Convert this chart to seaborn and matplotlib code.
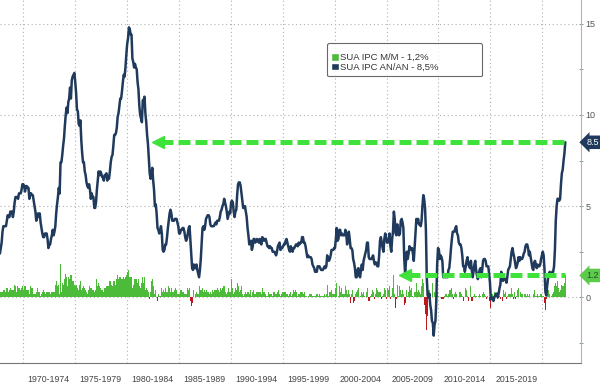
import matplotlib.pyplot as plt
import matplotlib.transforms as mtransforms
from matplotlib.patches import Patch
from matplotlib.ticker import FixedLocator, MultipleLocator
import seaborn as sns
import numpy as np
import pandas as pd

# first month of the series (Oct 1967), monthly data up to Mar 2022
start_year = 1967
start_month = 10

# CPI year over year, %
cpi_yoy = [
    2.4, 2.7, 3.0,
    3.6, 3.9, 3.9, 3.9, 3.9, 4.2, 4.5, 4.4, 4.4, 4.7, 4.7, 4.7,  # 1968
    4.4, 4.7, 5.2, 5.5, 5.5, 5.5, 5.4, 5.7, 5.7, 5.7, 5.9, 6.2,  # 1969
    6.2, 6.1, 5.8, 6.1, 6.1, 6.0, 6.0, 5.4, 5.7, 5.7, 5.6, 5.6,  # 1970
    5.3, 5.0, 4.7, 4.2, 4.4, 4.6, 4.4, 4.6, 4.1, 3.8, 3.5, 3.3,  # 1971
    3.3, 3.5, 3.5, 3.5, 3.2, 2.7, 2.9, 2.9, 3.2, 3.4, 3.7, 3.4,  # 1972
    3.6, 3.9, 4.6, 5.1, 5.5, 6.0, 5.7, 7.4, 7.4, 7.8, 8.3, 8.7,  # 1973
    9.4, 10.0, 10.4, 10.1, 10.7, 10.9, 11.5, 10.9, 11.9, 12.1, 12.2, 12.3,  # 1974
    11.8, 11.2, 10.3, 10.2, 9.5, 9.4, 9.7, 8.6, 7.9, 7.4, 7.4, 6.9,  # 1975
    6.7, 6.3, 6.1, 6.0, 6.2, 5.9, 5.4, 5.7, 5.5, 5.5, 4.9, 4.9,  # 1976
    5.2, 5.9, 6.4, 6.9, 6.7, 6.9, 6.8, 6.6, 6.6, 6.4, 6.7, 6.7,  # 1977
    6.8, 6.4, 6.6, 6.5, 6.9, 7.4, 7.7, 7.8, 8.3, 8.9, 8.9, 9.0,  # 1978
    9.3, 9.9, 10.1, 10.5, 10.9, 10.9, 11.3, 11.8, 12.2, 12.1, 12.6, 13.3,  # 1979
    13.9, 14.2, 14.8, 14.7, 14.4, 14.4, 13.1, 12.9, 12.6, 12.8, 12.6, 12.5,  # 1980
    11.8, 11.4, 10.5, 10.0, 9.8, 9.6, 10.8, 10.8, 11.0, 10.1, 9.6, 8.9,  # 1981
    8.4, 7.6, 6.8, 6.5, 6.7, 7.1, 6.4, 5.9, 5.0, 5.1, 4.6, 3.8,  # 1982
    3.7, 3.5, 3.6, 3.9, 3.5, 2.6, 2.5, 2.6, 2.9, 2.9, 3.3, 3.8,  # 1983
    4.2, 4.6, 4.8, 4.6, 4.2, 4.2, 4.2, 4.3, 4.3, 4.3, 4.1, 3.9,  # 1984
    3.5, 3.5, 3.7, 3.7, 3.8, 3.8, 3.6, 3.3, 3.1, 3.2, 3.5, 3.8,  # 1985
    3.9, 3.1, 2.2, 1.6, 1.5, 1.8, 1.6, 1.6, 1.8, 1.5, 1.3, 1.1,  # 1986
    1.5, 2.1, 3.0, 3.8, 3.9, 3.7, 3.9, 4.3, 4.4, 4.5, 4.5, 4.4,  # 1987
    4.0, 3.9, 3.9, 3.9, 3.9, 4.0, 4.1, 4.0, 4.2, 4.2, 4.2, 4.4,  # 1988
    4.7, 4.8, 5.0, 5.1, 5.4, 5.2, 5.0, 4.7, 4.3, 4.5, 4.7, 4.6,  # 1989
    5.2, 5.3, 5.2, 4.7, 4.4, 4.7, 4.8, 5.6, 6.2, 6.3, 6.3, 6.1,  # 1990
    5.7, 5.3, 4.9, 4.9, 5.0, 4.7, 4.4, 3.8, 3.4, 2.9, 3.0, 3.1,  # 1991
    2.6, 2.8, 3.2, 3.2, 3.0, 3.1, 3.2, 3.1, 3.0, 3.2, 3.0, 2.9,  # 1992
    3.3, 3.2, 3.1, 3.2, 3.2, 3.0, 2.8, 2.8, 2.7, 2.8, 2.7, 2.7,  # 1993
    2.5, 2.5, 2.5, 2.4, 2.3, 2.5, 2.8, 2.9, 3.0, 2.6, 2.7, 2.7,  # 1994
    2.8, 2.9, 2.9, 3.1, 3.2, 3.0, 2.8, 2.6, 2.5, 2.8, 2.6, 2.5,  # 1995
    2.7, 2.7, 2.8, 2.9, 2.9, 2.8, 3.0, 2.9, 3.0, 3.0, 3.3, 3.3,  # 1996
    3.0, 3.0, 2.8, 2.5, 2.2, 2.3, 2.2, 2.2, 2.2, 2.1, 1.8, 1.7,  # 1997
    1.6, 1.4, 1.4, 1.4, 1.7, 1.7, 1.7, 1.6, 1.5, 1.5, 1.5, 1.6,  # 1998
    1.7, 1.6, 1.7, 2.3, 2.1, 2.0, 2.1, 2.3, 2.6, 2.6, 2.6, 2.7,  # 1999
    2.7, 3.2, 3.8, 3.1, 3.2, 3.7, 3.7, 3.4, 3.5, 3.4, 3.4, 3.4,  # 2000
    3.7, 3.5, 2.9, 3.3, 3.6, 3.2, 2.7, 2.7, 2.6, 2.1, 1.9, 1.6,  # 2001
    1.1, 1.1, 1.5, 1.6, 1.2, 1.1, 1.5, 1.8, 1.5, 2.0, 2.2, 2.4,  # 2002
    2.6, 3.0, 3.0, 2.2, 2.1, 2.1, 2.1, 2.2, 2.3, 2.0, 1.8, 1.9,  # 2003
    1.9, 1.7, 1.7, 2.3, 3.1, 3.3, 3.0, 2.7, 2.5, 3.2, 3.5, 3.3,  # 2004
    3.0, 3.0, 3.1, 3.5, 2.8, 2.5, 3.2, 3.6, 4.7, 4.3, 3.5, 3.4,  # 2005
    4.0, 3.6, 3.4, 3.5, 4.2, 4.3, 4.1, 3.8, 2.1, 1.3, 2.0, 2.5,  # 2006
    2.1, 2.4, 2.8, 2.6, 2.7, 2.7, 2.4, 2.0, 2.8, 3.5, 4.3, 4.1,  # 2007
    4.3, 4.0, 4.0, 3.9, 4.2, 5.0, 5.6, 5.4, 4.9, 3.7, 1.1, 0.1,  # 2008
    0.0, 0.2, -0.4, -0.7, -1.3, -1.4, -2.1, -1.5, -1.3, -0.2, 1.8, 2.7,  # 2009
    2.6, 2.1, 2.3, 2.2, 2.0, 1.1, 1.2, 1.1, 1.1, 1.2, 1.1, 1.5,  # 2010
    1.6, 2.1, 2.7, 3.2, 3.6, 3.6, 3.6, 3.8, 3.9, 3.5, 3.4, 3.0,  # 2011
    2.9, 2.9, 2.7, 2.3, 1.7, 1.7, 1.4, 1.7, 2.0, 2.2, 1.8, 1.7,  # 2012
    1.6, 2.0, 1.5, 1.1, 1.4, 1.8, 2.0, 1.5, 1.2, 1.0, 1.2, 1.5,  # 2013
    1.6, 1.1, 1.5, 2.0, 2.1, 2.1, 2.0, 1.7, 1.7, 1.7, 1.3, 0.8,  # 2014
    -0.1, 0.0, -0.1, -0.2, 0.0, 0.1, 0.2, 0.2, 0.0, 0.2, 0.5, 0.7,  # 2015
    1.4, 1.0, 0.9, 1.1, 1.0, 1.0, 0.8, 1.1, 1.5, 1.6, 1.7, 2.1,  # 2016
    2.5, 2.7, 2.4, 2.2, 1.9, 1.6, 1.7, 1.9, 2.2, 2.0, 2.2, 2.1,  # 2017
    2.1, 2.2, 2.4, 2.5, 2.8, 2.9, 2.9, 2.7, 2.3, 2.5, 2.2, 1.9,  # 2018
    1.6, 1.5, 1.9, 2.0, 1.8, 1.6, 1.8, 1.7, 1.7, 1.8, 2.1, 2.3,  # 2019
    2.5, 2.3, 1.5, 0.3, 0.1, 0.6, 1.0, 1.3, 1.4, 1.2, 1.2, 1.4,  # 2020
    1.4, 1.7, 2.6, 4.2, 5.0, 5.4, 5.4, 5.3, 5.4, 6.2, 6.8, 7.0,  # 2021
    7.5, 7.9, 8.5,  # 2022
]

# CPI month over month, %
cpi_mom = [
    0.3, 0.3, 0.3,
    0.3, 0.4, 0.4, 0.3, 0.3, 0.5, 0.5, 0.3, 0.4, 0.5, 0.4, 0.3,  # 1968
    0.4, 0.4, 0.7, 0.6, 0.3, 0.6, 0.5, 0.5, 0.5, 0.4, 0.5, 0.6,  # 1969
    0.4, 0.6, 0.4, 0.6, 0.4, 0.4, 0.4, 0.2, 0.6, 0.5, 0.5, 0.5,  # 1970
    0.2, 0.2, 0.2, 0.3, 0.5, 0.5, 0.3, 0.3, 0.1, 0.2, 0.3, 0.4,  # 1971
    0.3, 0.6, 0.2, 0.3, 0.3, 0.3, 0.3, 0.2, 0.4, 0.3, 0.3, 0.3,  # 1972
    0.3, 0.7, 0.9, 0.7, 0.6, 0.7, 0.2, 1.8, 0.3, 0.8, 0.7, 0.6,  # 1973
    1.0, 1.3, 1.1, 0.6, 1.1, 1.0, 0.8, 1.2, 1.2, 0.9, 0.9, 0.7,  # 1974
    0.6, 0.7, 0.4, 0.5, 0.4, 0.7, 0.9, 0.4, 0.5, 0.6, 0.6, 0.5,  # 1975
    0.4, 0.3, 0.2, 0.4, 0.6, 0.5, 0.5, 0.5, 0.4, 0.4, 0.3, 0.4,  # 1976
    0.7, 1.0, 0.6, 0.8, 0.6, 0.5, 0.4, 0.4, 0.4, 0.3, 0.5, 0.5,  # 1977
    0.6, 0.6, 0.6, 0.9, 0.9, 0.9, 0.7, 0.6, 0.9, 0.9, 0.7, 0.7,  # 1978
    1.0, 1.2, 1.0, 1.1, 1.1, 1.0, 1.0, 1.0, 1.1, 1.0, 1.1, 1.2,  # 1979
    1.4, 1.4, 1.5, 1.1, 1.1, 1.1, 0.5, 0.7, 1.0, 1.0, 1.0, 1.0,  # 1980
    0.8, 1.0, 0.6, 0.5, 0.7, 0.8, 1.1, 0.8, 1.1, 0.4, 0.5, 0.4,  # 1981
    0.3, 0.3, -0.1, 0.3, 0.9, 1.0, 0.6, 0.3, 0.2, 0.4, 0.0, -0.2,  # 1982
    0.2, 0.1, 0.1, 0.6, 0.5, 0.3, 0.4, 0.3, 0.5, 0.3, 0.3, 0.3,  # 1983
    0.6, 0.5, 0.3, 0.5, 0.3, 0.3, 0.3, 0.4, 0.5, 0.4, 0.2, 0.2,  # 1984
    0.2, 0.4, 0.4, 0.4, 0.3, 0.3, 0.2, 0.2, 0.2, 0.3, 0.5, 0.4,  # 1985
    0.5, -0.2, -0.5, -0.3, 0.2, 0.4, 0.0, 0.2, 0.3, 0.2, 0.2, 0.2,  # 1986
    0.6, 0.4, 0.4, 0.5, 0.3, 0.4, 0.3, 0.5, 0.4, 0.3, 0.3, 0.2,  # 1987
    0.3, 0.2, 0.4, 0.4, 0.3, 0.4, 0.4, 0.4, 0.5, 0.4, 0.3, 0.3,  # 1988
    0.5, 0.4, 0.5, 0.6, 0.6, 0.3, 0.3, 0.2, 0.3, 0.5, 0.3, 0.3,  # 1989
    1.0, 0.5, 0.5, 0.2, 0.3, 0.5, 0.4, 0.8, 0.8, 0.6, 0.3, 0.4,  # 1990
    0.6, 0.2, 0.1, 0.2, 0.3, 0.3, 0.2, 0.3, 0.3, 0.2, 0.4, 0.3,  # 1991
    0.1, 0.3, 0.4, 0.2, 0.2, 0.3, 0.2, 0.3, 0.3, 0.3, 0.3, 0.2,  # 1992
    0.5, 0.3, 0.3, 0.3, 0.2, 0.1, 0.1, 0.3, 0.2, 0.4, 0.2, 0.2,  # 1993
    0.1, 0.3, 0.3, 0.2, 0.2, 0.3, 0.3, 0.4, 0.2, 0.1, 0.2, 0.3,  # 1994
    0.3, 0.3, 0.3, 0.3, 0.2, 0.2, 0.1, 0.2, 0.2, 0.3, 0.1, 0.2,  # 1995
    0.4, 0.3, 0.4, 0.4, 0.3, 0.1, 0.2, 0.2, 0.3, 0.3, 0.3, 0.3,  # 1996
    0.2, 0.3, 0.1, 0.1, 0.0, 0.1, 0.1, 0.2, 0.2, 0.2, 0.1, 0.1,  # 1997
    0.1, 0.1, 0.1, 0.2, 0.2, 0.1, 0.2, 0.1, 0.1, 0.2, 0.1, 0.1,  # 1998
    0.2, 0.1, 0.2, 0.7, 0.0, 0.1, 0.3, 0.3, 0.4, 0.2, 0.2, 0.2,  # 1999
    0.3, 0.5, 0.8, 0.0, 0.1, 0.6, 0.3, 0.1, 0.5, 0.2, 0.2, 0.2,  # 2000
    0.6, 0.4, 0.2, 0.4, 0.4, 0.2, -0.3, 0.2, 0.4, -0.3, -0.1, -0.2,  # 2001
    0.2, 0.3, 0.4, 0.5, 0.0, 0.1, 0.2, 0.3, 0.2, 0.3, 0.1, 0.0,  # 2002
    0.3, 0.6, 0.5, -0.2, -0.2, 0.1, 0.2, 0.4, 0.3, -0.1, -0.1, 0.2,  # 2003
    0.5, 0.4, 0.3, 0.3, 0.6, 0.3, -0.1, 0.1, 0.2, 0.5, 0.4, -0.1,  # 2004
    0.2, 0.5, 0.4, 0.6, -0.1, 0.1, 0.5, 0.5, 1.2, 0.2, -0.6, -0.1,  # 2005
    0.7, 0.1, 0.3, 0.6, 0.4, 0.2, 0.4, 0.2, -0.4, -0.3, 0.1, 0.4,  # 2006
    0.1, 0.3, 0.6, 0.4, 0.5, 0.2, 0.1, 0.0, 0.3, 0.3, 0.8, 0.3,  # 2007
    0.4, 0.3, 0.3, 0.2, 0.6, 1.0, 0.8, -0.4, 0.0, -0.9, -1.8, -1.0,  # 2008
    0.4, 0.4, -0.1, 0.0, 0.1, 0.8, 0.0, 0.3, 0.1, 0.2, 0.3, 0.1,  # 2009
    0.1, 0.0, 0.0, -0.1, -0.1, -0.1, 0.1, 0.1, 0.2, 0.2, 0.1, 0.2,  # 2010
    0.4, 0.4, 0.5, 0.5, 0.2, -0.1, 0.2, 0.3, 0.2, 0.0, 0.1, 0.0,  # 2011
    0.3, 0.3, 0.2, 0.1, -0.2, 0.0, 0.0, 0.5, 0.4, 0.1, -0.2, 0.0,  # 2012
    0.1, 0.6, -0.2, -0.2, 0.1, 0.2, 0.1, 0.1, 0.1, 0.0, 0.1, 0.2,  # 2013
    0.1, 0.0, 0.2, 0.2, 0.3, 0.2, 0.1, -0.1, 0.1, 0.0, -0.2, -0.3,  # 2014
    -0.6, 0.2, 0.2, 0.1, 0.3, 0.2, 0.1, 0.1, -0.1, 0.1, 0.1, -0.1,  # 2015
    0.0, -0.2, 0.1, 0.4, 0.2, 0.3, -0.1, 0.1, 0.2, 0.3, 0.2, 0.2,  # 2016
    0.5, 0.2, -0.1, 0.3, -0.1, 0.1, 0.1, 0.4, 0.5, 0.0, 0.3, 0.2,  # 2017
    0.5, 0.2, 0.0, 0.2, 0.2, 0.1, 0.2, 0.1, 0.1, 0.2, 0.0, 0.0,  # 2018
    0.0, 0.2, 0.4, 0.3, 0.1, 0.1, 0.2, 0.1, 0.1, 0.2, 0.2, 0.2,  # 2019
    0.1, 0.1, -0.3, -0.7, -0.1, 0.5, 0.5, 0.4, 0.2, 0.0, 0.1, 0.2,  # 2020
    0.3, 0.4, 0.6, 0.8, 0.6, 0.9, 0.5, 0.3, 0.4, 0.9, 0.7, 0.6,  # 2021
    0.6, 0.8, 1.2,  # 2022
]

period_starts = [1970, 1975, 1980, 1985, 1990, 1995, 2000, 2005, 2010, 2015]
period_labels = ['1970-1974', '1975-1979', '1980-1984', '1985-1989', '1990-1994',
                 '1995-1999', '2000-2004', '2005-2009', '2010-2014', '2015-2019']

# where the green arrows point back to
yoy_arrow_from = 1982.7
mom_arrow_from = 2006.5

navy = '#1f3a5c'
green = '#4dbb3a'
red = '#c0161e'
arrow_green = '#3fe23a'
grey = '#555555'

sns.set_style('white')
plt.rcParams['font.family'] = ['Liberation Sans', 'DejaVu Sans']

n = len(cpi_yoy)
t = start_year + (start_month - 1 + np.arange(n) + 0.5) / 12
df = pd.DataFrame({'t': t, 'yoy': cpi_yoy, 'mom': cpi_mom})

fig = plt.figure(figsize=(6, 3.84), dpi=100)
ax = fig.add_axes([0, 0.0547, 0.968, 0.9453])

bar_colors = np.where(df['mom'] < 0, red, green)
ax.bar(df['t'], df['mom'], width=1 / 12, color=bar_colors, linewidth=0, zorder=2)
sns.lineplot(data=df, x='t', y='yoy', color=navy, lw=1.8, ax=ax, zorder=3)

# dashed arrows back to the level of the last reading
last_t = df['t'].iloc[-1]
for y0, x0 in [(df['yoy'].iloc[-1], yoy_arrow_from), (df['mom'].iloc[-1], mom_arrow_from)]:
    ax.plot([x0 + 0.6, last_t], [y0, y0], color=arrow_green, lw=3.6,
            ls=(0, (2.4, 1.0)), dash_capstyle='butt', zorder=4)
    ax.plot([x0 + 0.3], [y0], marker='<', ms=8, color=arrow_green, mec=arrow_green, zorder=4)

ax.set_xlim(1967.8, 2023.7)
ax.set_ylim(-3.6, 16.3)

# x axis: 5-year separators, yearly minor ticks, period names in between
ax.xaxis.set_major_locator(FixedLocator(period_starts + [2020]))
ax.xaxis.set_minor_locator(MultipleLocator(1))
ax.tick_params(axis='x', which='major', length=15, width=0.8, color='#777777',
               direction='out', labelbottom=False)
ax.tick_params(axis='x', which='minor', length=4, width=0.6, color='#777777', direction='inout')
trans = mtransforms.blended_transform_factory(ax.transData, ax.transAxes)
for start, lbl in zip(period_starts, period_labels):
    ax.text(start + 2.5, -0.045, lbl, transform=trans, ha='center', va='center',
            fontsize=6.3, color='#444444', clip_on=False)

# y axis on the right
ax.yaxis.tick_right()
ax.yaxis.set_major_locator(FixedLocator([0, 5, 10, 15]))
ax.yaxis.set_minor_locator(MultipleLocator(2.5))
ax.tick_params(axis='y', which='both', length=3, width=0.7, color='#7fa27f',
               direction='inout', labelsize=6.5, labelcolor=grey, pad=2)
ax.set_xlabel('')
ax.set_ylabel('')

ax.grid(True, which='major', axis='both', color='#b0b0b0', lw=0.8, ls=(0, (1, 2.5)))
ax.set_axisbelow(True)

for side in ['left', 'top']:
    ax.spines[side].set_visible(False)
ax.spines['right'].set_color('#a8bca8')
ax.spines['bottom'].set_color('#777777')

# value tags on the right axis
ytrans = ax.get_yaxis_transform()
ax.text(1.021, df['yoy'].iloc[-1], f"{df['yoy'].iloc[-1]:.1f}", transform=ytrans,
        ha='center', va='center', fontsize=6.5, color='white', clip_on=False,
        bbox=dict(boxstyle='larrow,pad=0.25', fc=navy, ec='none'))
ax.text(1.021, df['mom'].iloc[-1], f"{df['mom'].iloc[-1]:.1f}", transform=ytrans,
        ha='center', va='center', fontsize=6.5, color='#24502a', clip_on=False,
        bbox=dict(boxstyle='larrow,pad=0.25', fc='#5cca4a', ec='none'))

handles = [
    Patch(fc=green, label=f"SUA IPC M/M - {cpi_mom[-1]:.1f}%".replace('.', ',')),
    Patch(fc=navy, label=f"SUA IPC AN/AN - {cpi_yoy[-1]:.1f}%".replace('.', ',')),
]
leg = ax.legend(handles=handles, loc='upper left', bbox_to_anchor=(0.563, 0.777, 0.267, 0.1045),
                mode='expand', fontsize=6.8, frameon=True, fancybox=True, edgecolor='#444444',
                handlelength=0.8, handleheight=0.8, handletextpad=0.15, labelspacing=0.1,
                borderpad=0.45, borderaxespad=0, title=' ', title_fontsize=4.5)
leg.get_frame().set_linewidth(0.8)
for txt in leg.get_texts():
    txt.set_color('#333333')

plt.savefig('out.png', dpi=100)
plt.close()
